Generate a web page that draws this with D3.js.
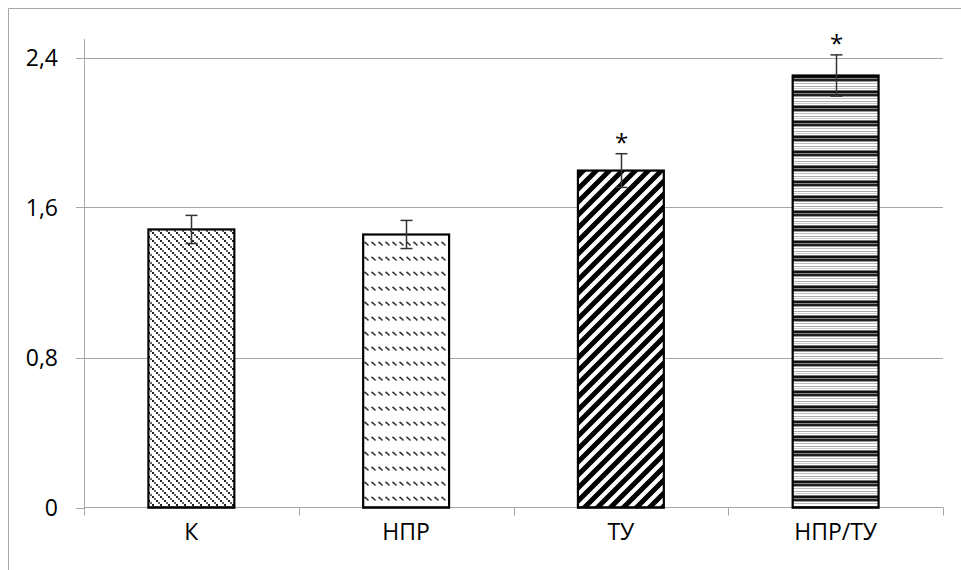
<!DOCTYPE html>
<html><head><meta charset="utf-8">
<script src="https://cdn.jsdelivr.net/npm/d3@7"></script>
<style>body{margin:0;background:#fff}svg{display:block}</style>
</head><body>
<script>
const categories = ["К", "НПР", "ТУ", "НПР/ТУ"];
const values = [1.483, 1.456, 1.797, 2.304];
const errors = [0.075, 0.075, 0.09, 0.11];
const significant = [false, false, true, true];
const yTicks = [0, 0.8, 1.6, 2.4];
const yTickLabels = ["0", "0,8", "1,6", "2,4"];

const W = 961, H = 570;
const svg = d3.select("body").append("svg").attr("width", W).attr("height", H);
const defs = svg.append("defs");

// pattern: K - diagonal dots
let p = defs.append("pattern").attr("id","pK").attr("patternUnits","userSpaceOnUse").attr("width",8).attr("height",8);
p.append("rect").attr("width",8).attr("height",8).attr("fill","#fff");
[[0,0],[2,2],[4,4],[6,6]].forEach(([x,y],i)=>p.append("rect").attr("x",x).attr("y",y).attr("width",2).attr("height",2).attr("fill", i%2?"#666":"#222"));
// pattern: НПР - rows of wavy dashes
p = defs.append("pattern").attr("id","pN").attr("patternUnits","userSpaceOnUse").attr("width",7).attr("height",15);
p.append("rect").attr("width",7).attr("height",15).attr("fill","#fff");
p.append("path").attr("d","M0.5,2 L2.5,3.5 L4.5,5.5").attr("stroke","#333").attr("stroke-width",1.6).attr("fill","none");
// pattern: ТУ - thick diagonal stripes
p = defs.append("pattern").attr("id","pT").attr("patternUnits","userSpaceOnUse").attr("width",13).attr("height",13);
p.append("rect").attr("width",13).attr("height",13).attr("fill","#fff");
p.append("path").attr("d","M-3,3 L3,-3 M-3,16 L16,-3 M10,16 L16,10").attr("stroke","#000").attr("stroke-width",5);
// pattern: НПР/ТУ - horizontal lines
p = defs.append("pattern").attr("id","pH").attr("patternUnits","userSpaceOnUse").attr("width",4).attr("height",15);
p.append("rect").attr("width",4).attr("height",15).attr("fill","#fff");
[[0,1,"#777"],[1,2,"#111"],[3,1,"#888"],[4,2,"#222"],[6,1,"#999"],[8,1,"#bbb"],[11,1,"#aaa"],[13,1,"#ccc"]].forEach(([y,h,c])=>p.append("rect").attr("x",0).attr("y",y).attr("width",4).attr("height",h).attr("fill",c));
const fills = ["url(#pK)","url(#pN)","url(#pT)","url(#pH)"];

// outer frame
svg.append("path").attr("d",`M8.5,${H} L8.5,8.5 L${W},8.5`).attr("fill","none").attr("stroke","#a6a6a6").attr("stroke-width",1);

const x0 = 84, x1 = 943, yTop = 39;
const x = d3.scaleBand().domain(categories).range([x0, x1]).paddingInner(0.6).paddingOuter(0.3);
const xb = d3.scaleBand().domain(categories).range([x0, x1]);
const y = d3.scaleLinear().domain([0, 2.4]).range([507.5, 57.5]);

const font = "'Open Sans', Lato, sans-serif";
// grid
svg.append("g").selectAll("line").data(yTicks.slice(1)).join("line")
  .attr("x1", x0).attr("x2", x1).attr("y1", d=>Math.round(y(d))+0.5).attr("y2", d=>Math.round(y(d))+0.5)
  .attr("stroke","#a6a6a6");
// y axis
svg.append("line").attr("x1",x0+0.5).attr("x2",x0+0.5).attr("y1",yTop).attr("y2",y(0)).attr("stroke","#a6a6a6");
svg.append("g").selectAll("line").data(yTicks).join("line")
  .attr("x1", x0-8).attr("x2", x0).attr("y1", d=>Math.round(y(d))+0.5).attr("y2", d=>Math.round(y(d))+0.5).attr("stroke","#a6a6a6");
svg.append("g").selectAll("text").data(yTicks).join("text")
  .attr("x", 58).attr("y", d=>y(d)).attr("dy","0.36em").attr("text-anchor","end")
  .attr("font-family",font).attr("font-size",23).attr("fill","#000").text((d,i)=>yTickLabels[i]);
// x axis
const xTickPos = categories.map(c=>xb(c)).concat([x1]);
svg.append("g").selectAll("line").data(xTickPos).join("line")
  .attr("x1", d=>Math.round(d)+0.5).attr("x2", d=>Math.round(d)+0.5).attr("y1", y(0)).attr("y2", y(0)+8).attr("stroke","#a6a6a6");

// bars
svg.append("g").selectAll("rect").data(values).join("rect")
  .attr("x", (d,i)=>x(categories[i])).attr("width", x.bandwidth())
  .attr("y", d=>y(d)).attr("height", d=>y(0)-y(d))
  .attr("fill",(d,i)=>fills[i]).attr("stroke","#000").attr("stroke-width",2.2);
svg.append("line").attr("x1",x0).attr("x2",x1).attr("y1",y(0)).attr("y2",y(0)).attr("stroke","#a6a6a6");
svg.append("g").selectAll("line").data(values).join("line")
  .attr("x1",(d,i)=>x(categories[i])-1).attr("x2",(d,i)=>x(categories[i])+x.bandwidth()+1)
  .attr("y1",y(0)).attr("y2",y(0)).attr("stroke","#000").attr("stroke-width",2.2);

// error bars
const eg = svg.append("g").attr("stroke","#333").attr("stroke-width",1.5);
values.forEach((v,i)=>{
  const cx = Math.round(x(categories[i]) + x.bandwidth()/2)+0.5;
  eg.append("line").attr("x1",cx).attr("x2",cx).attr("y1",y(v+errors[i])).attr("y2",y(v-errors[i]));
  eg.append("line").attr("x1",cx-6).attr("x2",cx+6).attr("y1",y(v+errors[i])).attr("y2",y(v+errors[i]));
  eg.append("line").attr("x1",cx-6).attr("x2",cx+6).attr("y1",y(v-errors[i])).attr("y2",y(v-errors[i]));
  if (significant[i]) {
    svg.append("text").attr("x",cx).attr("y",y(v+errors[i])-3).attr("text-anchor","middle")
      .attr("font-family",font).attr("font-size",24).attr("fill","#000").text("*");
  }
});
// x labels
svg.append("g").selectAll("text").data(categories).join("text")
  .attr("x", d=>xb(d)+xb.bandwidth()/2).attr("y", 540).attr("text-anchor","middle")
  .attr("font-family",font).attr("font-size",23).attr("fill","#000").text(d=>d);
</script>
</body></html>
